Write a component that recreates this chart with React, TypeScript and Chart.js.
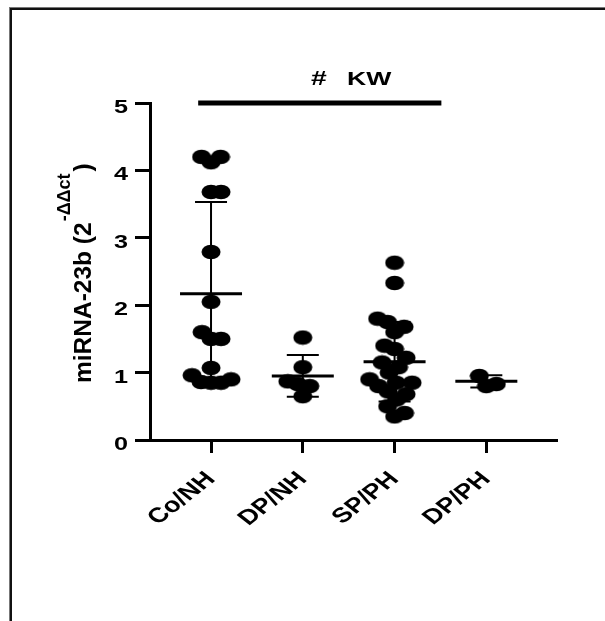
import React, { useEffect, useRef } from "react";
import { Chart, registerables } from "chart.js";

Chart.register(...registerables);

// ---- data ----
const categories = ["Co/NH", "DP/NH", "SP/PH", "DP/PH"];
const coNH = [4.2, 4.12, 4.2, 3.68, 3.68, 2.79, 2.05, 1.6, 1.5, 1.5, 1.07, 0.96, 0.9, 0.86, 0.85, 0.85];
const dpNH = [1.52, 1.08, 0.87, 0.83, 0.8, 0.65];
const spPH = [2.63, 2.33, 1.8, 1.75, 1.68, 1.6, 1.4, 1.35, 1.22, 1.15, 1.08, 1.0, 0.9, 0.85, 0.85, 0.8, 0.72, 0.68, 0.6, 0.5, 0.4, 0.35];
const dpPH = [0.95, 0.83, 0.8];
const groupMeans = [2.17, 0.95, 1.16, 0.87];
const groupSDs = [1.36, 0.31, 0.59, 0.09];
const yTickValues = [0, 1, 2, 3, 4, 5];
const yTitleMain = "miRNA-23b (2";
const yTitleSup = "-ΔΔct";
const yTitleEnd = ")";
const sigHash = "#";
const sigText = "KW";
const sigFrom = 0.86;
const sigTo = 3.51;
const sigLevel = 5;

const groups = [coNH, dpNH, spPH, dpPH];

const FONT = "'Liberation Sans', Arial, Helvetica, sans-serif";

function makeDot(): HTMLCanvasElement {
  const c = document.createElement("canvas");
  c.width = 20;
  c.height = 16;
  const g = c.getContext("2d")!;
  g.fillStyle = "#000";
  g.beginPath();
  g.ellipse(10, 8, 9.5, 7.3, 0, 0, Math.PI * 2);
  g.fill();
  return c;
}

function stretchedText(
  ctx: CanvasRenderingContext2D,
  text: string,
  x: number,
  y: number,
  size: number,
  sx: number,
  align: CanvasTextAlign,
  baseline: CanvasTextBaseline,
  angle = 0
) {
  ctx.save();
  ctx.translate(x, y);
  ctx.scale(sx, 1);
  ctx.rotate(angle);
  ctx.font = `bold ${size}px ${FONT}`;
  ctx.fillStyle = "#000";
  ctx.textAlign = align;
  ctx.textBaseline = baseline;
  ctx.fillText(text, 0, 0);
  ctx.restore();
}

const decorPlugin = {
  id: "decor",
  beforeDraw(chart: any) {
    const ctx = chart.ctx as CanvasRenderingContext2D;
    ctx.save();
    ctx.fillStyle = "#fff";
    ctx.fillRect(0, 0, chart.width, chart.height);
    ctx.fillStyle = "#777";
    ctx.fillRect(9, 7, chart.width - 9, 3);
    ctx.fillRect(9, 7, 3, chart.height - 7);
    ctx.fillStyle = "#111";
    ctx.fillRect(10, 8, chart.width - 10, 2);
    ctx.fillRect(10, 8, 2, chart.height - 8);
    ctx.restore();
  },
  afterDatasetsDraw(chart: any) {
    const ctx = chart.ctx as CanvasRenderingContext2D;
    const xs = chart.scales.x;
    const ys = chart.scales.y;
    ctx.save();
    ctx.strokeStyle = "#000";
    ctx.lineCap = "butt";
    groupMeans.forEach((m, i) => {
      const cx = xs.getPixelForValue(i + 1);
      const my = ys.getPixelForValue(m);
      const ty = ys.getPixelForValue(m + groupSDs[i]);
      const by = ys.getPixelForValue(m - groupSDs[i]);
      ctx.lineWidth = 2;
      ctx.beginPath();
      ctx.moveTo(cx, ty);
      ctx.lineTo(cx, by);
      ctx.moveTo(cx - 16, ty);
      ctx.lineTo(cx + 16, ty);
      ctx.moveTo(cx - 16, by);
      ctx.lineTo(cx + 16, by);
      ctx.stroke();
      ctx.lineWidth = 3;
      ctx.beginPath();
      ctx.moveTo(cx - 31, my);
      ctx.lineTo(cx + 31, my);
      ctx.stroke();
    });
    ctx.restore();
  },
  afterDraw(chart: any) {
    const ctx = chart.ctx as CanvasRenderingContext2D;
    const xs = chart.scales.x;
    const ys = chart.scales.y;
    yTickValues.forEach((v) => {
      const py = ys.getPixelForValue(v);
      stretchedText(ctx, String(v), 128, py + 10, 18, 1.4, "right", "alphabetic");
    });
    categories.forEach((c, i) => {
      const px = xs.getPixelForValue(i + 1);
      stretchedText(ctx, c, px, 476, 21, 1.29, "right", "middle", -Math.PI / 4);
    });
    const sy = ys.getPixelForValue(sigLevel);
    ctx.save();
    ctx.fillStyle = "#000";
    ctx.fillRect(xs.getPixelForValue(sigFrom), sy - 2.5, xs.getPixelForValue(sigTo) - xs.getPixelForValue(sigFrom), 5);
    ctx.restore();
    stretchedText(ctx, sigHash, 311, 85, 21, 1.35, "left", "alphabetic");
    stretchedText(ctx, sigText, 347, 85, 19, 1.4, "left", "alphabetic");
    ctx.save();
    ctx.translate(91, 383);
    ctx.rotate(-Math.PI / 2);
    ctx.fillStyle = "#000";
    ctx.textAlign = "left";
    ctx.textBaseline = "alphabetic";
    ctx.font = `bold 24.5px ${FONT}`;
    const w1 = ctx.measureText(yTitleMain).width;
    ctx.fillText(yTitleMain, 0, 0);
    ctx.font = `bold 18px ${FONT}`;
    const w2 = ctx.measureText(yTitleSup).width;
    ctx.fillText(yTitleSup, w1 + 1, -21);
    ctx.font = `bold 24.5px ${FONT}`;
    ctx.fillText(yTitleEnd, w1 + w2 + 3, 0);
    ctx.restore();
  },
};

function swarm(chart: any) {
  const xs = chart.scales.x;
  const ys = chart.scales.y;
  const hx = 10;
  const hy = 14;
  const pts: { x: number; y: number }[] = [];
  groups.forEach((vals, gi) => {
    const cx = xs.getPixelForValue(gi + 1);
    const placed: { px: number; py: number }[] = [];
    const sorted = [...vals].sort((a, b) => a - b);
    let flip = 1;
    sorted.forEach((v) => {
      const py = ys.getPixelForValue(v);
      const free = (px: number) =>
        placed.every((p) => {
          const dx = (p.px - px) / hx;
          const dy = (p.py - py) / hy;
          return dx * dx + dy * dy >= 1;
        });
      let chosen = cx;
      for (let d = 0; d < 200; d += 0.5) {
        const a = cx + flip * d;
        const b = cx - flip * d;
        if (free(a)) { chosen = a; break; }
        if (free(b)) { chosen = b; break; }
      }
      if (chosen !== cx) flip = -flip;
      placed.push({ px: chosen, py });
      pts.push({ x: xs.getValueForPixel(chosen), y: v });
    });
  });
  return pts;
}

export default function App() {
  const ref = useRef<HTMLCanvasElement | null>(null);
  useEffect(() => {
    if (!ref.current) return;
    const initial = groups.flatMap((vals, gi) => vals.map((v) => ({ x: gi + 1, y: v })));
    const dot = makeDot();
    const tickGrid = (len: number) => ({
      display: true,
      drawOnChartArea: false,
      drawTicks: true,
      tickLength: len,
      tickWidth: 3,
      color: "#000",
    });
    const chart = new Chart(ref.current, {
      type: "scatter",
      data: {
        datasets: [
          {
            data: initial,
            pointStyle: dot as any,
            pointRadius: 9,
            pointHoverRadius: 9,
            backgroundColor: "#000",
            borderColor: "#000",
          },
        ],
      },
      options: {
        responsive: false,
        animation: false,
        events: [],
        layout: { padding: { left: 0, top: 103, right: 48, bottom: 0 } },
        plugins: { legend: { display: false }, tooltip: { enabled: false } },
        scales: {
          x: {
            type: "linear",
            min: 0.335,
            max: 4.77,
            afterFit: (s: any) => { s.height = 181; },
            afterBuildTicks: (s: any) => { s.ticks = categories.map((_, i) => ({ value: i + 1 })); },
            grid: tickGrid(13) as any,
            border: { display: true, color: "#000", width: 3 },
            ticks: { display: false },
          },
          y: {
            type: "linear",
            min: 0,
            max: 5,
            afterFit: (s: any) => { s.width = 150; },
            afterBuildTicks: (s: any) => { s.ticks = yTickValues.map((v) => ({ value: v })); },
            grid: tickGrid(15) as any,
            border: { display: true, color: "#000", width: 3 },
            ticks: { display: false },
          },
        },
      },
      plugins: [decorPlugin],
    });
    chart.data.datasets[0].data = swarm(chart) as any;
    chart.update("none");
    return () => chart.destroy();
  }, []);
  return (
    <div style={{ position: "fixed", left: 0, top: 0, width: 605, height: 621, background: "#fff" }}>
      <canvas ref={ref} width={605} height={621} style={{ display: "block", width: 605, height: 621 }} />
    </div>
  );
}
